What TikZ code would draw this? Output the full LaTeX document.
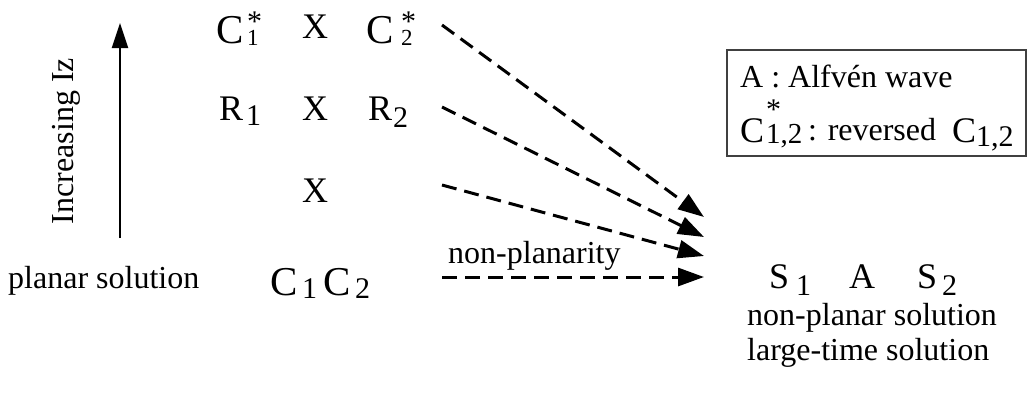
\documentclass[tikz,border=0pt]{standalone}
\usepackage{fontspec}
\setmainfont{Liberation Serif}
\usetikzlibrary{arrows.meta}
\newcommand\fsz[1]{\fontsize{#1}{#1}\selectfont}
\newcommand\starup[2]{\rlap{\raisebox{#1}{\fsz{30}*}}#2}
\begin{document}
\begin{tikzpicture}[x=1pt,y=-1pt,
  lbl/.style={inner sep=0pt,anchor=base west,font=\fsz{36}},
  bigc/.style={inner sep=0pt,anchor=base west,font=\fsz{41}},
  subl/.style={inner sep=0pt,anchor=base west,font=\fsz{30}},
  subs/.style={inner sep=0pt,anchor=base west,font=\fsz{23}},
  txt/.style={inner sep=0pt,anchor=base west,font=\fsz{32}},
  flow/.style={line width=3pt,dash pattern=on 15pt off 8pt,-{Triangle[length=26pt,width=18pt]}},
  up/.style={line width=2pt,-{Triangle[length=25pt,width=16pt]}}]
\useasboundingbox (0,0) rectangle (1034,392);
% top row
\node[bigc] (c1s) at (216,43) {C};
\node[subs] (c1ss) at (247,45) {\starup{14pt}{1}};
\node[lbl] (xtop) at (302,38) {X};
\node[bigc] (c2s) at (366,43) {C};
\node[subs] (c2ss) at (401,45) {\starup{14pt}{2}};
% middle row
\node[lbl] (r1) at (219,120) {R};
\node[subl] (r1s) at (246,125) {1};
\node[lbl] (xmid) at (302,120) {X};
\node[lbl] (r2) at (368,120) {R};
\node[subl] (r2s) at (393,127) {2};
% lower X
\node[lbl] (xbot) at (302,202) {X};
% bottom row
\node[bigc] (c1) at (270,295) {C};
\node[subl] (c1b) at (302,298) {1};
\node[bigc] (c2) at (323,295) {C};
\node[subl] (c2b) at (355,298) {2};
\node[txt] (planar) at (8,288) {planar solution};
\node[txt] (nonpl) at (448,263) {non-planarity};
% right side
\node[lbl] (s1) at (769,288) {S};
\node[subl] (s1s) at (796,295) {1};
\node[lbl] (aw) at (849,288) {A};
\node[lbl] (s2) at (917,288) {S};
\node[subl] (s2s) at (942,295) {2};
\node[txt] (np) at (747,325) {non-planar solution};
\node[txt] (lt) at (747,360) {large-time solution};
% legend box
\draw[line width=1.2pt,draw=black!75] (727,50) rectangle (1026,156);
\node[txt] (leg1) at (740,87) {A : Alfvén wave};
\node[lbl] (legc) at (740,142) {C};
\node[inner sep=0pt,anchor=base west,font=\fsz{29}] (legcs) at (766,143) {\starup{24pt}{1,2}};
\node[txt] (legr) at (808,140) {: reversed};
\node[lbl] (legc2) at (952,142) {C};
\node[subl] (legc2s) at (976,146) {1,2};
% increasing arrow
\coordinate (ub) at (120,238);
\coordinate (ut) at (120,23);
\draw[up] (ub) -- (ut);
\node[inner sep=0pt,font=\fsz{32},rotate=90] (iz) at (66,141) {Increasing Iz};
% flow arrows
\coordinate (a1s) at (442,25);  \coordinate (a1e) at (704,217);
\coordinate (a2s) at (442,107); \coordinate (a2e) at (704,237);
\coordinate (a3s) at (442,185); \coordinate (a3e) at (704,256);
\coordinate (a4s) at (442,277); \coordinate (a4e) at (704,277);
\draw[flow] (a1s) -- (a1e);
\draw[flow] (a2s) -- (a2e);
\draw[flow] (a3s) -- (a3e);
\draw[flow] (a4s) -- (a4e);
\end{tikzpicture}
\end{document}
